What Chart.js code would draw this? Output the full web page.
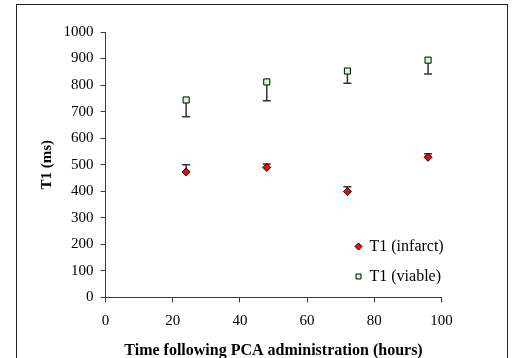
<!DOCTYPE html>
<html>
<head>
<meta charset="utf-8">
<script src="https://cdn.jsdelivr.net/npm/chart.js@4/dist/chart.umd.min.js"></script>
<style>
  html, body { margin: 0; padding: 0; background: #fff; overflow: hidden; }
  #wrap { position: relative; width: 514px; height: 358px; }
  #frame { position: absolute; left: 16px; top: 4px; width: 492px; height: 400px; border: 1px solid #222; box-sizing: border-box; }
  canvas { position: absolute; left: 0; top: 0; }
</style>
</head>
<body>
<div id="wrap">
  <div id="frame"></div>
  <canvas id="t1Chart" width="514" height="358"></canvas>
</div>
<script>
const hours = [24, 48, 72, 96];
const infarctT1 = [473, 490, 399, 528];
const infarctErr = [27, 13, 18, 13];   // drawn upward only
const viableT1 = [744, 812, 853, 894];
const viableErr = [63, 71, 46, 52];    // drawn downward only
const xTicks = [0, 20, 40, 60, 80, 100];
const yTicks = [0, 100, 200, 300, 400, 500, 600, 700, 800, 900, 1000];

const serif = "'Liberation Serif', 'Times New Roman', serif";
const axisColor = '#3a3a3a';

// error bars (one-sided, like the original Excel chart)
const errorBars = {
    id: 'errorBars',
    beforeDatasetsDraw(chart) {
        const ctx = chart.ctx;
        const xs = chart.scales.x, ys = chart.scales.y;
        ctx.save();
        ctx.strokeStyle = '#333';
        ctx.lineWidth = 1.5;
        const drawBar = (x, y0, y1) => {
            const px = xs.getPixelForValue(x);
            const a = ys.getPixelForValue(y0), b = ys.getPixelForValue(y1);
            ctx.beginPath();
            ctx.moveTo(px, a); ctx.lineTo(px, b);
            ctx.moveTo(px - 4, b); ctx.lineTo(px + 4, b);
            ctx.stroke();
        };
        hours.forEach((h, i) => {
            drawBar(h, infarctT1[i], infarctT1[i] + infarctErr[i]);
            drawBar(h, viableT1[i], viableT1[i] - viableErr[i]);
        });
        ctx.restore();
    }
};

// legend sits inside the plot, lower right
const insideLegend = {
    id: 'insideLegend',
    afterDraw(chart) {
        const ctx = chart.ctx;
        const area = chart.chartArea;
        ctx.save();
        ctx.font = '16px ' + serif;
        ctx.textBaseline = 'middle';
        chart.data.datasets.forEach((ds, i) => {
            const y = area.bottom - 51 + i * 30;
            const x = area.right - 83;
            ctx.fillStyle = ds.backgroundColor;
            ctx.strokeStyle = '#000';
            ctx.lineWidth = 1;
            Chart.helpers.drawPoint(ctx, {
                pointStyle: ds.pointStyle,
                radius: 3.5,
                borderWidth: 1
            }, x, y);
            ctx.fillStyle = '#000';
            ctx.fillText(ds.label, x + 11, y);
        });
        ctx.restore();
    }
};

const ctx = document.getElementById('t1Chart').getContext('2d');

new Chart(ctx, {
    type: 'scatter',
    data: {
        datasets: [{
            label: 'T1 (infarct)',
            data: hours.map((h, i) => ({ x: h, y: infarctT1[i] })),
            pointStyle: 'rectRot',
            pointRadius: 4,
            backgroundColor: '#ff0000',
            borderColor: '#000',
            borderWidth: 1
        }, {
            label: 'T1 (viable)',
            data: hours.map((h, i) => ({ x: h, y: viableT1[i] })),
            pointStyle: 'rect',
            pointRadius: 4.3,
            backgroundColor: '#ccffcc',
            borderColor: '#000',
            borderWidth: 1
        }]
    },
    plugins: [errorBars, insideLegend],
    options: {
        responsive: false,
        animation: false,
        layout: { padding: { left: 0, top: 32, right: 72.5, bottom: 0 } },
        plugins: {
            legend: { display: false },
            tooltip: { enabled: false }
        },
        scales: {
            x: {
                type: 'linear',
                min: 0,
                max: 100,
                afterBuildTicks: (scale) => { scale.ticks = xTicks.map(v => ({ value: v })); },
                afterFit: (scale) => { scale.height = 60.5; },
                border: { color: axisColor, width: 1 },
                grid: { drawOnChartArea: false, drawTicks: true, tickLength: 5, color: axisColor },
                ticks: { color: '#000', padding: 10, font: { family: serif, size: 15 }, callback: (v) => String(v) },
                title: {
                    display: true,
                    text: 'Time following PCA administration (hours)',
                    color: '#000',
                    padding: { top: 0, bottom: -2 },
                    font: { family: serif, size: 16, weight: 'bold' }
                }
            },
            y: {
                min: 0,
                max: 1000,
                afterBuildTicks: (scale) => { scale.ticks = yTicks.map(v => ({ value: v })); },
                afterFit: (scale) => { scale.width = 105.5; },
                border: { color: axisColor, width: 1 },
                grid: { drawOnChartArea: false, drawTicks: true, tickLength: 5, color: axisColor },
                ticks: { color: '#000', padding: 7, font: { family: serif, size: 15 }, callback: (v) => String(v) },
                title: {
                    display: true,
                    text: 'T1 (ms)',
                    color: '#000',
                    padding: { top: 38, bottom: 0 },
                    font: { family: serif, size: 15, weight: 'bold' }
                }
            }
        }
    }
});
</script>
</body>
</html>
